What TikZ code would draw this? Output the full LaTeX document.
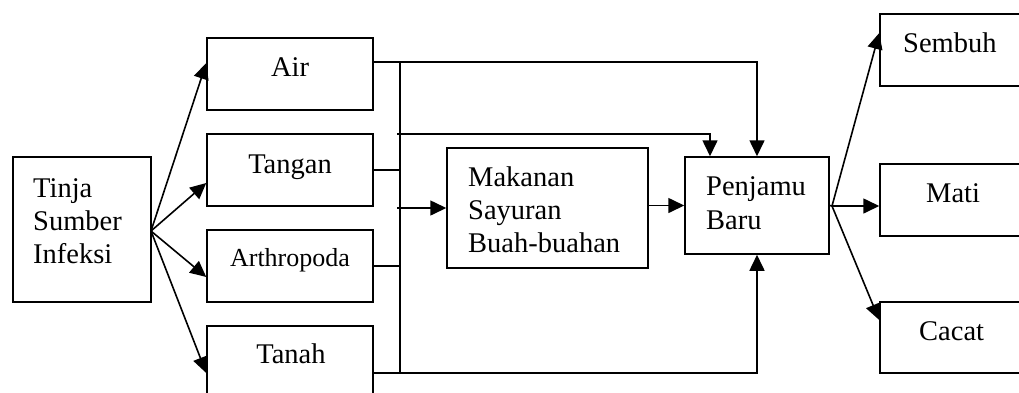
\documentclass[tikz,border=0pt]{standalone}
\usepackage{fontspec}
\setmainfont{Liberation Serif}
\usetikzlibrary{arrows.meta}
\begin{document}
\begin{tikzpicture}[x=1pt,y=-1pt,
  box/.style={draw,line width=1.5pt,inner sep=0pt,minimum width=#1},
  box/.default=166pt,
  txt/.style={inner sep=0pt,font=\fontsize{28.5}{33}\selectfont},
  stxt/.style={inner sep=0pt,font=\fontsize{26}{30}\selectfont},
  ln/.style={line width=1.6pt},
  arr/.style={line width=1.6pt,-{Triangle[length=16pt,width=15pt]}}]
\clip (0,0) rectangle (1019,392);
% boxes
\node[box=138pt,minimum height=145pt] (tinja) at (82,229.5) {};
\node[box,minimum height=72pt] (air) at (290,74) {};
\node[box,minimum height=72pt] (tangan) at (290,170) {};
\node[box,minimum height=72pt] (arthro) at (290,266) {};
\node[box,minimum height=72pt] (tanah) at (290,362) {};
\node[box=201pt,minimum height=120pt] (makanan) at (547.5,208) {};
\node[box=144pt,minimum height=97pt] (penjamu) at (757,205.5) {};
\node[box,minimum height=72pt] (sembuh) at (963,50) {};
\node[box,minimum height=72pt] (mati) at (963,200) {};
\node[box,minimum height=71pt] (cacat) at (963,337.5) {};
% texts
\node[txt,anchor=base west] (t1) at (33,197) {Tinja};
\node[txt,anchor=base west] (t2) at (33,230) {Sumber};
\node[txt,anchor=base west] (t3) at (33,263) {Infeksi};
\node[txt,anchor=base] (tair) at (290,76) {Air};
\node[txt,anchor=base] (ttangan) at (290,173) {Tangan};
\node[stxt,anchor=base] (tarthro) at (290,266) {Arthropoda};
\node[txt,anchor=base] (ttanah) at (291,363) {Tanah};
\node[txt,anchor=base west] (m1) at (468,186) {Makanan};
\node[txt,anchor=base west] (m2) at (468,219) {Sayuran};
\node[txt,anchor=base west] (m3) at (468,252) {Buah-buahan};
\node[txt,anchor=base west] (p1) at (706,195) {Penjamu};
\node[txt,anchor=base west] (p2) at (706,229) {Baru};
\node[txt,anchor=base west] (tsembuh) at (903,52) {Sembuh};
\node[txt,anchor=base west] (tmati) at (926,202) {Mati};
\node[txt,anchor=base west] (tcacat) at (919,340) {Cacat};
% coordinates
\coordinate (src) at (151,231);
\coordinate (vtop) at (400,62);
\coordinate (vbot) at (400,373);
\coordinate (h0) at (397,134);
\coordinate (m0) at (397,208);
\coordinate (out) at (832,206);
% left fan
\draw[arr] (src) -- ([yshift=11pt]air.west);
\draw[arr] (src) -- ([yshift=-13pt]tangan.west);
\draw[arr] (src) -- ([yshift=-11pt]arthro.west);
\draw[arr] (src) -- ([yshift=-11pt]tanah.west);
% stubs and bus
\draw[ln] ([yshift=12pt]air.east) -- (vtop);
\draw[ln] (tangan.east) -- (tangan.east -| vtop);
\draw[ln] (arthro.east) -- (arthro.east -| vtop);
\draw[ln] ([yshift=-11pt]tanah.east) -- (vbot);
\draw[ln] (vtop) -- (vbot);
\draw[arr] (vtop) -| (penjamu.north);
\draw[arr] (h0) -| ([xshift=-47pt]penjamu.north);
\draw[arr] (m0) -- (makanan.west);
\draw[arr] (vbot) -| (penjamu.south);
\draw[arr] (makanan.east |- penjamu.west) -- (penjamu.west);
% right fan
\draw[ln] (penjamu.east) -- (out);
\draw[arr] (out) -- ([yshift=17pt]sembuh.west);
\draw[arr] (out) -- (out -| mati.west);
\draw[arr] (out) -- ([yshift=17.5pt]cacat.west);
\end{tikzpicture}
\end{document}
